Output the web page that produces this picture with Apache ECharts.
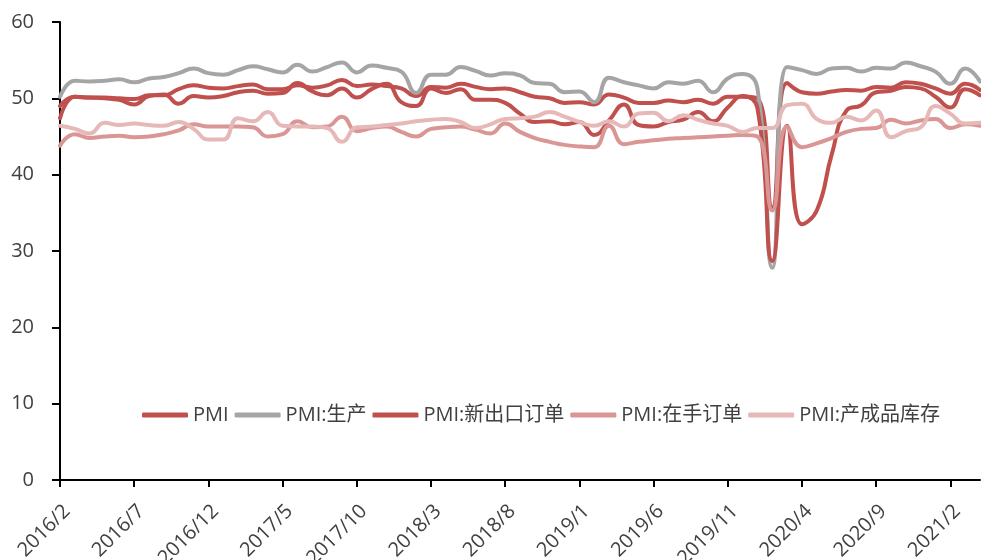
<!DOCTYPE html>
<html>
<head>
<meta charset="utf-8">
<title>PMI</title>
<script src="https://cdn.jsdelivr.net/npm/echarts@6/dist/echarts.min.js"></script>
<style>
    html, body {margin: 0; padding: 0; background: #fff;}
    #container {width: 981px; height: 560px;}
</style>
</head>
<body>
<div id="container"></div>
<script>
// 月份
var months = [
    '2016/2','2016/3','2016/4','2016/5','2016/6','2016/7','2016/8','2016/9','2016/10','2016/11','2016/12',
    '2017/1','2017/2','2017/3','2017/4','2017/5','2017/6','2017/7','2017/8','2017/9','2017/10','2017/11','2017/12',
    '2018/1','2018/2','2018/3','2018/4','2018/5','2018/6','2018/7','2018/8','2018/9','2018/10','2018/11','2018/12',
    '2019/1','2019/2','2019/3','2019/4','2019/5','2019/6','2019/7','2019/8','2019/9','2019/10','2019/11','2019/12',
    '2020/1','2020/2','2020/3','2020/4','2020/5','2020/6','2020/7','2020/8','2020/9','2020/10','2020/11','2020/12',
    '2021/1','2021/2','2021/3','2021/4'
];

var pmi = [
    49.0, 50.2, 50.1, 50.1, 50.0, 49.9, 50.4, 50.4, 51.2, 51.7, 51.4,
    51.3, 51.6, 51.8, 51.2, 51.2, 51.7, 51.4, 51.7, 52.4, 51.6, 51.8, 51.6,
    51.3, 50.3, 51.5, 51.4, 51.9, 51.5, 51.2, 51.3, 50.8, 50.2, 50.0, 49.4,
    49.5, 49.2, 50.5, 50.1, 49.4, 49.4, 49.7, 49.5, 49.8, 49.3, 50.2, 50.2,
    50.0, 35.7, 52.0, 50.8, 50.6, 50.9, 51.1, 51.0, 51.5, 51.4, 52.1, 51.9,
    51.3, 50.6, 51.9, 51.1
];

// 生产
var production = [
    50.2, 52.3, 52.2, 52.3, 52.5, 52.1, 52.6, 52.8, 53.3, 53.9, 53.3,
    53.1, 53.7, 54.2, 53.8, 53.4, 54.4, 53.5, 54.1, 54.7, 53.4, 54.3, 54.0,
    53.5, 50.7, 53.1, 53.1, 54.1, 53.6, 53.0, 53.3, 53.0, 52.0, 51.9, 50.8,
    50.9, 49.5, 52.7, 52.1, 51.7, 51.3, 52.1, 51.9, 52.3, 50.8, 52.6, 53.2,
    51.3, 27.8, 54.1, 53.7, 53.2, 53.9, 54.0, 53.5, 54.0, 53.9, 54.7, 54.2,
    53.5, 51.9, 53.9, 52.2
];

// 新出口订单
var exportOrders = [
    47.4, 50.2, 50.1, 50.0, 49.8, 49.2, 50.3, 50.5, 49.3, 50.3, 50.1,
    50.3, 50.8, 51.0, 50.6, 50.7, 52.0, 50.9, 50.4, 51.3, 50.1, 51.2, 51.9,
    49.5, 49.0, 51.3, 50.7, 51.2, 49.8, 49.8, 49.4, 48.0, 46.9, 47.0, 46.6,
    46.9, 45.2, 47.1, 49.2, 46.5, 46.3, 46.9, 47.2, 48.2, 47.0, 48.8, 50.3,
    48.7, 28.7, 46.4, 33.5, 35.3, 42.6, 48.4, 49.1, 50.8, 51.0, 51.5, 51.3,
    50.2, 48.8, 51.2, 50.4
];

// 在手订单
var backlog = [
    43.8, 45.3, 44.8, 45.0, 45.1, 44.9, 45.0, 45.3, 45.8, 46.6, 46.3,
    46.3, 46.3, 46.2, 45.0, 45.3, 47.0, 46.2, 46.3, 47.6, 45.7, 46.1, 46.3,
    45.6, 45.0, 46.0, 46.2, 46.3, 45.9, 45.4, 46.7, 45.6, 44.8, 44.3, 43.9,
    43.7, 43.6, 46.4, 44.0, 44.3, 44.5, 44.7, 44.8, 44.9, 45.0, 45.1, 45.2,
    45.0, 35.3, 46.3, 43.6, 44.1, 44.8, 45.6, 46.0, 46.1, 47.2, 46.7, 47.1,
    47.3, 46.1, 46.6, 46.4
];

// 产成品库存
var inventory = [
    46.4, 46.0, 45.4, 46.8, 46.5, 46.7, 46.5, 46.4, 46.9, 46.0, 44.6,
    44.6, 47.4, 47.0, 48.2, 46.4, 46.3, 46.3, 46.1, 44.3, 46.2, 46.3, 46.5,
    46.7, 47.0, 47.2, 47.3, 46.9, 46.1, 46.6, 47.3, 47.4, 47.6, 48.2, 47.6,
    46.9, 46.4, 47.0, 46.3, 48.0, 48.1, 47.0, 47.8, 47.2, 46.7, 46.4, 45.6,
    46.1, 46.1, 49.1, 49.3, 47.3, 46.8, 47.6, 47.1, 48.4, 44.9, 45.7, 46.2,
    49.0, 48.0, 46.7, 46.8
];

var names = ['PMI', 'PMI:生产', 'PMI:新出口订单', 'PMI:在手订单', 'PMI:产成品库存'];
var colors = ['#C0504D', '#A5A5A5', '#C0504D', '#D99694', '#E6B9B8'];
var yTicks = [0, 10, 20, 30, 40, 50, 60];

var font = "'Open Sans', 'Noto Sans CJK SC', sans-serif";

var dom = document.getElementById("container");
var myChart = echarts.init(dom, null, {renderer: 'canvas'});
var option = null;

function mkLine(name, data, color) {
    return {
        name: name,
        type: 'line',
        data: data,
        smooth: 0.5,
        showSymbol: false,
        symbol: 'none',
        lineStyle: {width: 4, color: color, cap: 'round', join: 'round'},
        itemStyle: {color: color}
    };
}

option = {
    animation: false,
    backgroundColor: '#fff',
    color: colors,
    textStyle: {fontFamily: font},
    legend: {
        data: names,
        left: 137,
        top: 400,
        icon: 'roundRect',
        itemWidth: 46,
        itemHeight: 5,
        itemGap: 6,
        textStyle: {fontSize: 20, color: '#404040', fontFamily: font}
    },
    grid: {
        left: 60,
        right: 1,
        top: 22,
        bottom: 80,
        containLabel: false,
        outerBoundsMode: 'none'
    },
    xAxis: {
        type: 'category',
        boundaryGap: false,
        data: months,
        axisLine: {lineStyle: {color: '#000', width: 2}},
        axisTick: {show: true, interval: 4, length: 7, lineStyle: {color: '#000', width: 2}},
        axisLabel: {
            interval: 4,
            rotate: 45,
            margin: 21,
            verticalAlign: 'top',
            fontSize: 20,
            color: '#404040',
            fontFamily: font
        },
        splitLine: {show: false}
    },
    yAxis: {
        type: 'value',
        min: yTicks[0],
        max: yTicks[yTicks.length - 1],
        interval: 10,
        axisLine: {show: true, lineStyle: {color: '#000', width: 2}},
        axisTick: {show: true, length: 8, lineStyle: {color: '#000', width: 2}},
        axisLabel: {margin: 26, fontSize: 20, color: '#404040', fontFamily: font},
        splitLine: {show: false}
    },
    series: [
        mkLine(names[0], pmi, colors[0]),
        mkLine(names[1], production, colors[1]),
        mkLine(names[2], exportOrders, colors[2]),
        mkLine(names[3], backlog, colors[3]),
        mkLine(names[4], inventory, colors[4])
    ]
};

if (option && typeof option === "object") {
    myChart.setOption(option, true);
}
</script>
</body>
</html>
